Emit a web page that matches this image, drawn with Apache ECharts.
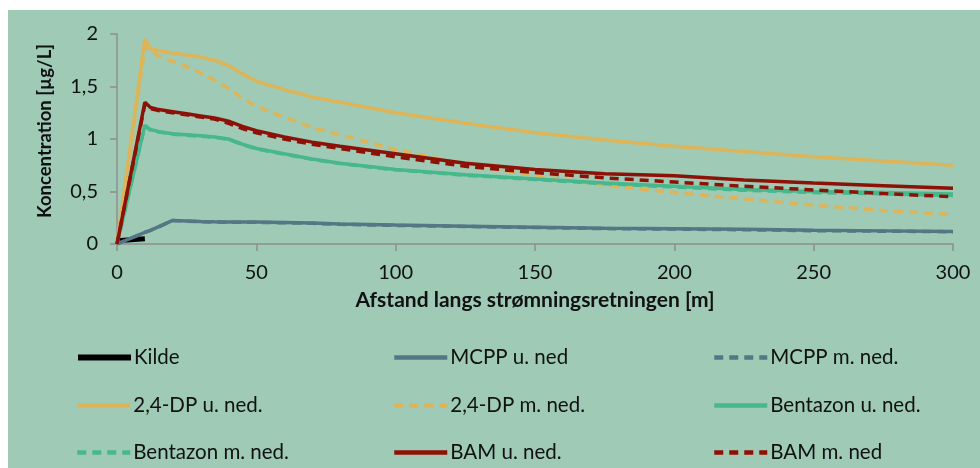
<!DOCTYPE html>
<html>
<head>
<meta charset="utf-8">
<script src="https://cdn.jsdelivr.net/npm/echarts@6/dist/echarts.min.js"></script>
<style>
  html, body { margin: 0; padding: 0; background: #ffffff; }
  #chart { position: absolute; left: 8px; top: 10px; width: 972px; height: 458px; background: #9ECAB6; }
</style>
</head>
<body>
<div id="chart"></div>
<script>
// ---- data ----
const xs = [0, 10, 12, 15, 20, 25, 30, 35, 40, 45, 50, 60, 70, 80, 100, 125, 150, 175, 200, 225, 250, 275, 300];

const kildeX = [0, 10];
const kildeY = [0.03, 0.05];

const mcppU   = [0, 0.11, 0.13, 0.165, 0.225, 0.22, 0.215, 0.212, 0.21, 0.21, 0.21, 0.205, 0.20, 0.19, 0.18, 0.17, 0.16, 0.15, 0.145, 0.14, 0.13, 0.125, 0.12];
const mcppM   = [0, 0.11, 0.13, 0.164, 0.223, 0.218, 0.213, 0.21, 0.208, 0.207, 0.206, 0.202, 0.197, 0.187, 0.177, 0.167, 0.157, 0.147, 0.142, 0.136, 0.127, 0.122, 0.117];
const dpU     = [0, 1.95, 1.86, 1.84, 1.82, 1.80, 1.78, 1.75, 1.70, 1.62, 1.55, 1.47, 1.40, 1.35, 1.25, 1.15, 1.06, 0.99, 0.93, 0.88, 0.83, 0.79, 0.75];
const dpM     = [0, 1.88, 1.84, 1.79, 1.74, 1.69, 1.63, 1.56, 1.48, 1.39, 1.31, 1.21, 1.11, 1.04, 0.90, 0.76, 0.65, 0.56, 0.49, 0.43, 0.37, 0.32, 0.28];
const benU    = [0, 1.13, 1.09, 1.07, 1.05, 1.04, 1.03, 1.02, 1.00, 0.95, 0.91, 0.86, 0.81, 0.77, 0.71, 0.66, 0.62, 0.58, 0.55, 0.52, 0.50, 0.49, 0.476];
const benM    = [0, 1.125, 1.085, 1.066, 1.046, 1.036, 1.026, 1.016, 0.996, 0.946, 0.906, 0.856, 0.806, 0.766, 0.706, 0.655, 0.614, 0.574, 0.543, 0.512, 0.49, 0.478, 0.462];
const bamU    = [0, 1.35, 1.30, 1.28, 1.26, 1.24, 1.22, 1.20, 1.17, 1.12, 1.08, 1.02, 0.97, 0.93, 0.86, 0.77, 0.71, 0.67, 0.65, 0.61, 0.58, 0.555, 0.53];
const bamM    = [0, 1.33, 1.29, 1.27, 1.25, 1.23, 1.21, 1.19, 1.15, 1.10, 1.06, 1.00, 0.95, 0.91, 0.83, 0.74, 0.68, 0.63, 0.59, 0.55, 0.515, 0.48, 0.45];

const seriesNames = ['Kilde', 'MCPP u. ned', 'MCPP m. ned.', '2,4-DP u. ned.', '2,4-DP m. ned.', 'Bentazon u. ned.', 'Bentazon m. ned.', 'BAM u. ned.', 'BAM m. ned'];

const yTicks = [0, 0.5, 1, 1.5, 2];
const xTicks = [0, 50, 100, 150, 200, 250, 300];

// ---- styling ----
const C_MCPP = '#557785';
const C_DP = '#DDB558';
const C_BEN = '#46B88C';
const C_BAM = '#8C1106';
const DASH = [9, 6];
const FONT = 'Lato, "Liberation Sans", sans-serif';

function pairs(x, y) { return x.map((v, i) => [v, y[i]]); }

function lineSeries(name, data, color, dashed, width) {
  return {
    name: name,
    type: 'line',
    data: data,
    symbol: 'none',
    smooth: false,
    animation: false,
    lineStyle: { color: color, width: width || 3.5, type: dashed ? DASH : 'solid', cap: 'butt' },
    itemStyle: { color: color }
  };
}

const series = [
  lineSeries(seriesNames[0], pairs(kildeX, kildeY), '#000000', false, 5),
  lineSeries(seriesNames[1], pairs(xs, mcppU), C_MCPP, false),
  lineSeries(seriesNames[2], pairs(xs, mcppM), C_MCPP, true),
  lineSeries(seriesNames[3], pairs(xs, dpU), C_DP, false),
  lineSeries(seriesNames[4], pairs(xs, dpM), C_DP, true),
  lineSeries(seriesNames[5], pairs(xs, benU), C_BEN, false),
  lineSeries(seriesNames[6], pairs(xs, benM), C_BEN, true),
  lineSeries(seriesNames[7], pairs(xs, bamU), C_BAM, false),
  lineSeries(seriesNames[8], pairs(xs, bamM), C_BAM, true)
];

// legend: 3 columns x 3 rows
const colLeft = [62, 379, 699];
const rowTop = [332, 380, 427];
const legends = seriesNames.map((n, i) => ({
  data: [n],
  left: colLeft[i % 3],
  top: rowTop[Math.floor(i / 3)],
  itemWidth: 53,
  itemHeight: 14,
  selectedMode: false,
  itemStyle: { opacity: 0 },
  lineStyle: { width: i === 0 ? 6 : 4.5 },
  textStyle: { fontFamily: FONT, fontSize: 20.5, color: '#111', padding: [0, 0, 0, -2] }
}));

const chart = echarts.init(document.getElementById('chart'), null, { renderer: 'canvas' });
chart.setOption({
  backgroundColor: 'transparent',
  animation: false,
  textStyle: { fontFamily: FONT },
  grid: { left: 109, right: 27, top: 24, bottom: 224, containLabel: false },
  legend: legends,
  xAxis: {
    type: 'value',
    min: xTicks[0],
    max: xTicks[xTicks.length - 1],
    interval: 50,
    name: 'Afstand langs strømningsretningen [m]',
    nameLocation: 'middle',
    nameGap: 46,
    nameTextStyle: { fontFamily: FONT, fontSize: 21, fontWeight: 'bold', color: '#111' },
    axisLine: { show: true, lineStyle: { color: '#8f8f8f', width: 1.5 } },
    axisTick: { show: true, length: 7, lineStyle: { color: '#8f8f8f', width: 1.5 } },
    splitLine: { show: false },
    axisLabel: { fontFamily: FONT, fontSize: 20, color: '#111', margin: 19 }
  },
  yAxis: {
    type: 'value',
    min: yTicks[0],
    max: yTicks[yTicks.length - 1],
    interval: 0.5,
    name: 'Koncentration [µg/L]',
    nameLocation: 'middle',
    nameGap: 62,
    nameTextStyle: { fontFamily: FONT, fontSize: 18.5, fontWeight: 'bold', color: '#111', padding: [0, 0, 0, 16] },
    axisLine: { show: true, lineStyle: { color: '#8f8f8f', width: 1.5 } },
    axisTick: { show: true, length: 7, lineStyle: { color: '#8f8f8f', width: 1.5 } },
    splitLine: { show: false },
    axisLabel: { fontFamily: FONT, fontSize: 20, color: '#111', margin: 19,
      formatter: v => String(v).replace('.', ',') }
  },
  series: series
});
</script>
</body>
</html>
